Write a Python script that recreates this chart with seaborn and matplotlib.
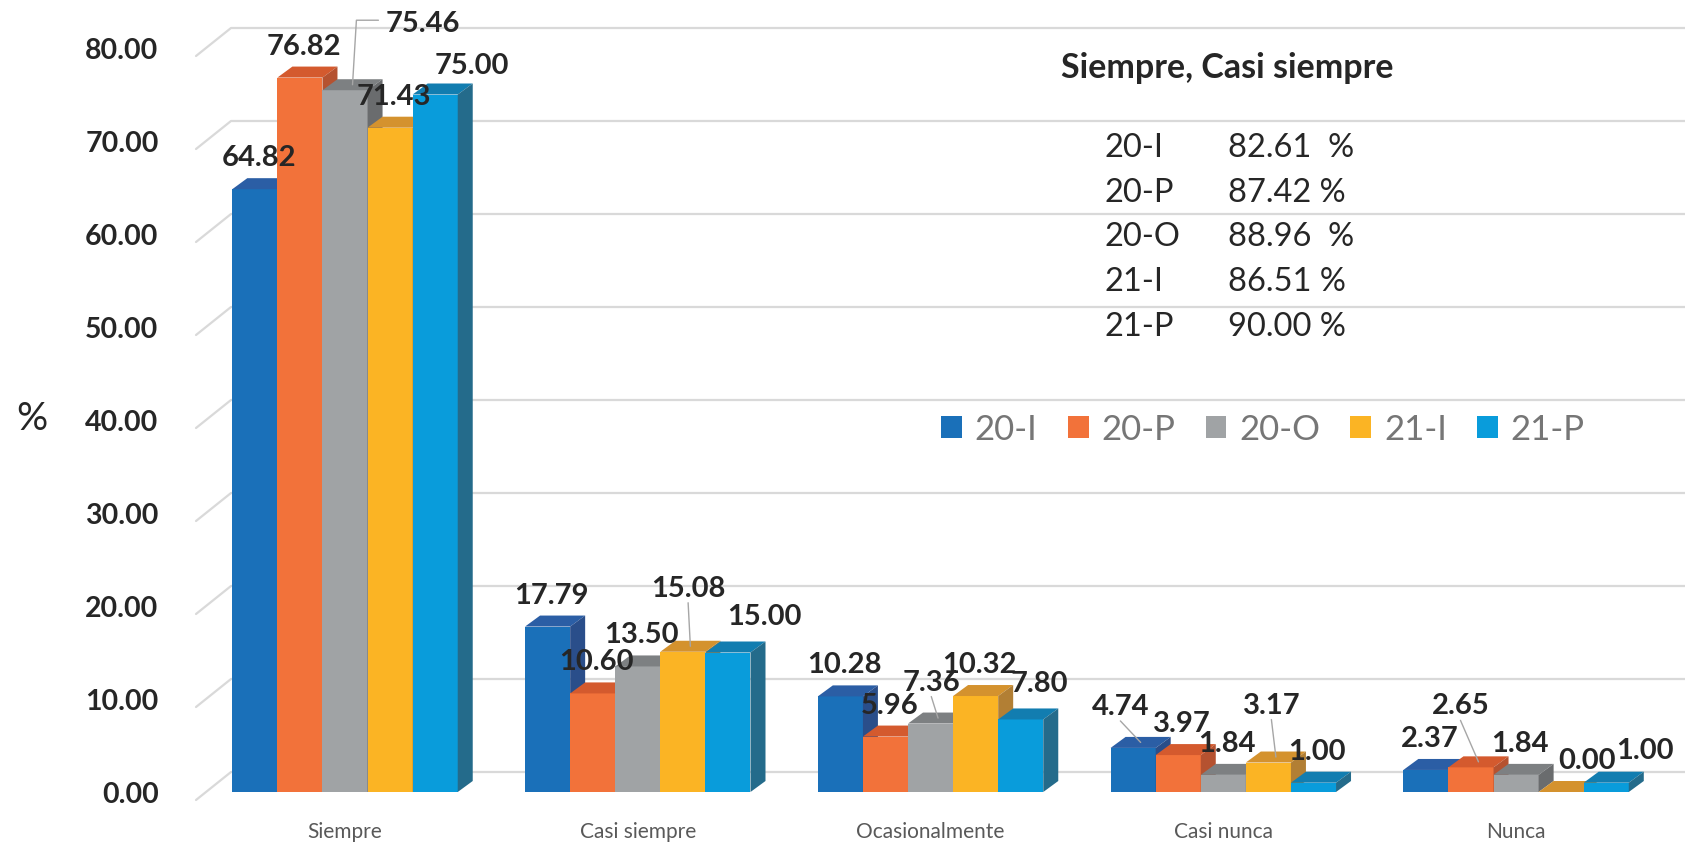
import numpy as np
import pandas as pd
import matplotlib
matplotlib.use("Agg")
import matplotlib.pyplot as plt
from matplotlib.patches import Polygon
import seaborn as sns

# datos
categorias = ["Siempre", "Casi siempre", "Ocasionalmente", "Casi nunca", "Nunca"]
series = ["20-I", "20-P", "20-O", "21-I", "21-P"]
v_20I = [64.82, 17.79, 10.28, 4.74, 2.37]
v_20P = [76.82, 10.60, 5.96, 3.97, 2.65]
v_20O = [75.46, 13.50, 7.36, 1.84, 1.84]
v_21I = [71.43, 15.08, 10.32, 3.17, 0.00]
v_21P = [75.00, 15.00, 7.80, 1.00, 1.00]
yticks = [0, 10, 20, 30, 40, 50, 60, 70, 80]
resumen_titulo = "Siempre, Casi siempre"
resumen_series = ["20-I", "20-P", "20-O", "21-I", "21-P"]
resumen_valores = ["82.61  %", "87.42 %", "88.96  %", "86.51 %", "90.00 %"]

# estilos
frente = ["#1a70b9", "#f2723a", "#a0a3a5", "#fbb424", "#099cdb"]
tapa = ["#2b5ea5", "#d45a2e", "#7d8082", "#d4922e", "#127db0"]
lado = ["#2a4e8a", "#b55230", "#6a6c6e", "#b27f34", "#246b8b"]
texto = "#262626"

# desplazamiento de etiquetas (dx en anchos de barra, dy en px, linea guia)
etiq = {
    (2, 0): (1.65, 67, "codo"),
    (4, 0): (0.75, 29, None),
    (3, 1): (0.05, 64, "linea"),
    (4, 1): (0.75, 36, None),
    (2, 2): (-0.05, 42, "linea"),
    (4, 2): (0.35, 36, None),
    (0, 3): (-0.35, 42, "linea"),
    (3, 3): (0.0, 58, "linea"),
    (1, 4): (-0.3, 62, "linea"),
    (3, 4): (0.5, 32, None),
    (4, 4): (0.8, 33, None),
}

df = pd.DataFrame({
    "categoria": categorias * 5,
    "serie": np.repeat(series, 5),
    "valor": v_20I + v_20P + v_20O + v_21I + v_21P,
})

sns.set_style("white")
plt.rcParams["font.family"] = ["Lato", "DejaVu Sans"]

W, H = 1685, 845
fig = plt.figure(figsize=(W / 100, H / 100), dpi=100)
ax = fig.add_axes([196 / W, 52 / H, (W - 196) / W, 85 * 9.3 / H])

sns.barplot(data=df, x="categoria", y="valor", hue="serie", order=categorias,
            hue_order=series, palette=frente, saturation=1, width=0.77,
            linewidth=0, ax=ax)
ax.set_xlim(-0.509, 4.577)
ax.set_ylim(0, 85)
for s in ax.spines.values():
    s.set_visible(False)
ax.grid(False)
ax.set_xlabel("")
ax.set_ylabel("")

to_px = ax.transData.transform
to_data = ax.transData.inverted().transform

# lineas de la pared del fondo
x_izq = ax.bbox.x0
for v in yticks:
    yv = to_px((0, v))[1]
    pts = to_data([(x_izq, yv - 8), (x_izq + 35, yv + 20), (W, yv + 20)])
    ax.plot(pts[:, 0], pts[:, 1], color="#d9d9d9", lw=1.6, zorder=0.5,
            clip_on=False)

DX, DY = 15, 11
for j, cont in enumerate(ax.containers):
    for i, p in enumerate(cont.patches):
        x0, w, h = p.get_x(), p.get_width(), p.get_height()
        X0, Y0 = to_px((x0, 0))
        X1, Y1 = to_px((x0 + w, h))
        z = 3 + j * 0.1
        p.set_zorder(z)
        top = to_data([(X0, Y1), (X0 + DX, Y1 + DY), (X1 + DX, Y1 + DY), (X1, Y1)])
        side = to_data([(X1, Y0), (X1 + DX, Y0 + DY), (X1 + DX, Y1 + DY), (X1, Y1)])
        ax.add_patch(Polygon(top, closed=True, fc=tapa[j], ec="none",
                             zorder=z + 0.01, clip_on=False))
        ax.add_patch(Polygon(side, closed=True, fc=lado[j], ec="none",
                             zorder=z + 0.01, clip_on=False))

        dxb, dy, guia = etiq.get((j, i), (0.02, 32, None))
        xc = (X0 + X1) / 2
        xl = xc + dxb * (X1 - X0) + 3
        yl = Y1 + dy
        tx, ty = to_data((xl, yl))
        ax.text(tx, ty, f"{h:.2f}", ha="center", va="center", fontsize=21,
                fontweight="bold", color=texto, zorder=20, clip_on=False)
        if guia == "linea":
            pts = to_data([(xc + DX / 2, Y1 + DY / 2), (xl, yl - 15)])
            ax.plot(pts[:, 0], pts[:, 1], color="#a6a6a6", lw=1, zorder=15,
                    clip_on=False)
        elif guia == "codo":
            pts = to_data([(xc + DX / 2, Y1 + DY / 2), (xl - 66, yl + 3),
                           (xl - 44, yl + 3)])
            ax.plot(pts[:, 0], pts[:, 1], color="#a6a6a6", lw=1, zorder=15,
                    clip_on=False)

ax.set_yticks(yticks)
ax.set_yticklabels([f"{v:.2f}" for v in yticks], fontsize=20.5,
                   fontweight="bold", color=texto)
ax.tick_params(axis="y", length=0, pad=27)
ax.set_xticks(range(len(categorias)))
ax.set_xticklabels(categorias, fontsize=15, color="#595959")
ax.tick_params(axis="x", length=0, pad=21)

fig.text(32 / W, 1 - 419 / H, "%", ha="center", va="center", fontsize=28,
         color=texto)

sns.move_legend(ax, "center", bbox_to_anchor=(1263 / W, 1 - 430 / H),
                bbox_transform=fig.transFigure, ncol=5, frameon=False,
                title=None, fontsize=25, handlelength=0.6, handleheight=0.6,
                handletextpad=0.37, columnspacing=0.87, labelcolor="#767676")

fig.text(1227 / W, 1 - 68 / H, resumen_titulo, ha="center", va="center",
         fontsize=24.5, fontweight="bold", color=texto)
filas_y = [148, 193, 237, 282, 327]
for s, v, y in zip(resumen_series, resumen_valores, filas_y):
    fig.text(1104 / W, 1 - y / H, s, ha="left", va="center", fontsize=23.5,
             color=texto)
    fig.text(1228 / W, 1 - y / H, v, ha="left", va="center", fontsize=23.5,
             color=texto)

fig.savefig("out.png", dpi=100)
